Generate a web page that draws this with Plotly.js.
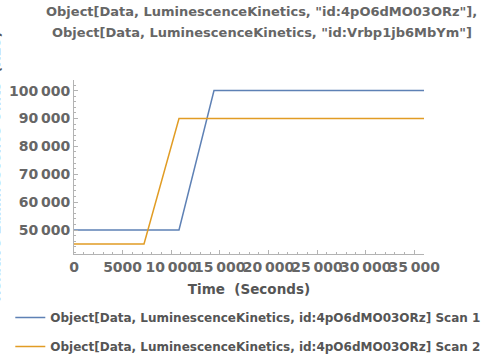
<!DOCTYPE html>
<html><head><meta charset="utf-8">
<script src="https://cdn.plot.ly/plotly-3.0.1.min.js"></script>
<style>html,body{margin:0;padding:0;background:#fff}</style>
</head><body><div id="c" style="width:500px;height:361px"></div>
<script>
const timeSeconds = [0, 3600, 7200, 10800, 14400, 18000, 21600, 25200, 28800, 32400, 36000];
const scan1 = [50000, 50000, 50000, 50000, 100000, 100000, 100000, 100000, 100000, 100000, 100000];
const scan2 = [45000, 45000, 45000, 90000, 90000, 90000, 90000, 90000, 90000, 90000, 90000];
const seriesNames = ["Object[Data, LuminescenceKinetics, id:4pO6dMO03ORz] Scan 1",
                     "Object[Data, LuminescenceKinetics, id:4pO6dMO03ORz] Scan 2"];
const xTickVals = [0, 5000, 10000, 15000, 20000, 25000, 30000, 35000];
const xTickText = ["0", "5000", "10\u2009000", "15\u2009000", "20\u2009000", "25\u2009000", "30\u2009000", "35\u2009000"];
const yTickVals = [50000, 60000, 70000, 80000, 90000, 100000];
const yTickText = ["50\u2009000", "60\u2009000", "70\u2009000", "80\u2009000", "90\u2009000", "100\u2009000"];
const titleLines = ['Object[Data, LuminescenceKinetics, "id:4pO6dMO03ORz"],',
                    'Object[Data, LuminescenceKinetics, "id:Vrbp1jb6MbYm"]'];
const yTitle = 'Relative Luminescence Units  (RLU)';

const F = 'DejaVu Sans';
const traces = [
  {x: timeSeconds, y: scan1, name: seriesNames[0], mode: 'lines', legendgroup: 'a',
   line: {color: '#5E81B5', width: 1.5}},
  {x: timeSeconds, y: scan2, name: seriesNames[1], mode: 'lines', legendgroup: 'b',
   line: {color: '#E19C24', width: 1.5}}
];
const axisCommon = {
  showgrid: false, zeroline: false, showline: true, linecolor: '#b3b3b3', linewidth: 1,
  ticks: 'inside', ticklen: 4, tickcolor: '#b3b3b3', tickwidth: 1,
  tickfont: {family: F, size: 14, color: '#666666', weight: 'bold'},
  tickmode: 'array', tickangle: 0
};
const layout = {
  width: 500, height: 361,
  margin: {l: 74, r: 76, t: 80, b: 107, autoexpand: false},
  paper_bgcolor: '#fff', plot_bgcolor: '#fff',
  showlegend: true,
  xaxis: Object.assign({}, axisCommon, {
    range: [0, 36000], tickvals: xTickVals, ticktext: xTickText,
    minor: {dtick: 1000, ticklen: 2, tickcolor: '#b3b3b3', ticks: 'inside'},
    title: {text: 'Time  (Seconds)', font: {family: F, size: 13.5, color: '#555555', weight: 'bold'}, standoff: 10}
  }),
  yaxis: Object.assign({}, axisCommon, {
    range: [41400, 103800], tickvals: yTickVals, ticktext: yTickText,
    minor: {dtick: 2000, tick0: 0, ticklen: 2, tickcolor: '#b3b3b3', ticks: 'inside'}
  }),
  legend: {x: -0.182, xanchor: 'left', y: -0.2816, yanchor: 'top', orientation: 'v',
    traceorder: 'grouped', tracegroupgap: 10,
    font: {family: F, size: 12, color: '#555555', weight: 'bold'}, bgcolor: 'rgba(0,0,0,0)'},
  annotations: [
    {text: titleLines[0], xref: 'paper', yref: 'paper', x: 0.537, y: 1 + (80 - 11) / 174, xanchor: 'center', yanchor: 'middle', showarrow: false,
     font: {family: F, size: 13, color: '#666666', weight: 'bold'}},
    {text: titleLines[1], xref: 'paper', yref: 'paper', x: 0.537, y: 1 + (80 - 33) / 174, xanchor: 'center', yanchor: 'middle', showarrow: false,
     font: {family: F, size: 13, color: '#666666', weight: 'bold'}},
    {text: yTitle, textangle: -90, xref: 'paper', yref: 'paper', x: (-5.5 - 74) / 350, y: 0.5, xanchor: 'center', yanchor: 'middle', showarrow: false,
     font: {family: F, size: 13.5, color: '#555555', weight: 'bold'}}
  ]
};
Plotly.newPlot('c', traces, layout, {displayModeBar: false, staticPlot: true});
</script></body></html>
